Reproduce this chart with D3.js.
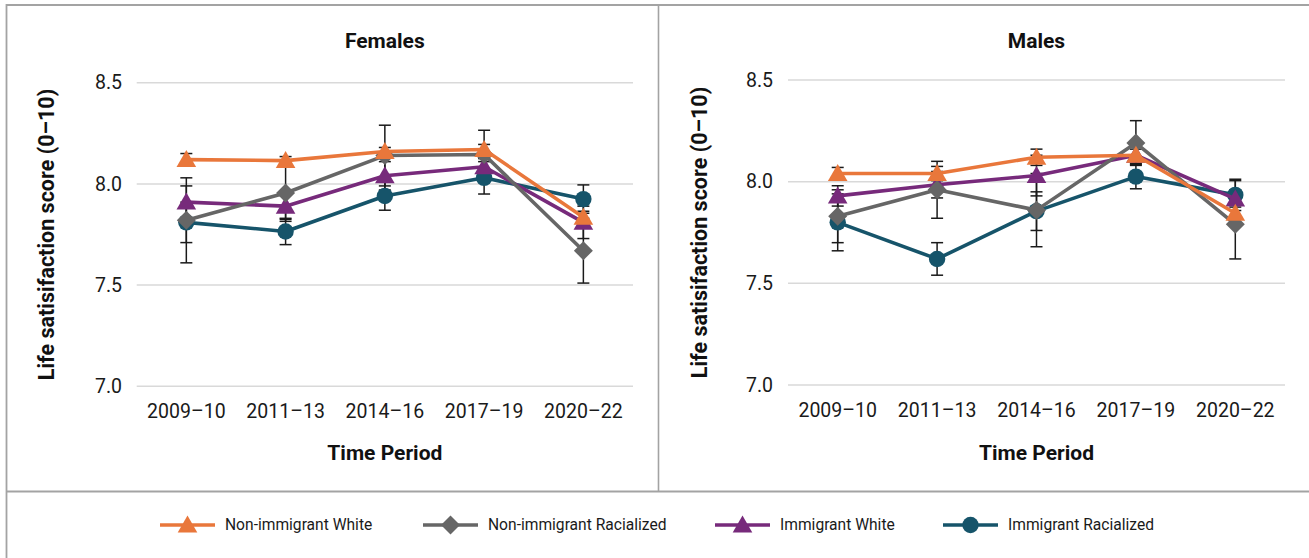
<!DOCTYPE html>
<html>
<head>
<meta charset="utf-8">
<script src="https://cdn.jsdelivr.net/npm/d3@7"></script>
<style>
  html, body { margin: 0; padding: 0; background: #fff; }
  svg { display: block; font-family: Roboto, "Liberation Sans", Arial, sans-serif; }
</style>
</head>
<body>
<svg id="chart" width="1309" height="558"></svg>
<script>
// Time periods on the x axis and score ticks on the y axis
const periods = ["2009–10", "2011–13", "2014–16", "2017–19", "2020–22"];
const yTicks = [7.0, 7.5, 8.0, 8.5];
const seriesNames = ["Non-immigrant White", "Non-immigrant Racialized", "Immigrant White", "Immigrant Racialized"];

// Females: mean life satisfaction and error-bar half widths
const femalesNIW = [8.12, 8.115, 8.16, 8.17, 7.835];
const femalesNIWErr = [0.03, 0.02, 0.02, 0.025, 0.03];
const femalesNIR = [7.82, 7.955, 8.14, 8.145, 7.67];
const femalesNIRErr = [0.21, 0.14, 0.15, 0.12, 0.16];
const femalesIW = [7.91, 7.89, 8.04, 8.085, 7.81];
const femalesIWErr = [0.08, 0.065, 0.07, 0.04, 0.08];
const femalesIR = [7.81, 7.765, 7.94, 8.03, 7.925];
const femalesIRErr = [0.10, 0.065, 0.07, 0.08, 0.07];

// Males
const malesNIW = [8.04, 8.04, 8.12, 8.13, 7.845];
const malesNIWErr = [0.03, 0.035, 0.04, 0.03, 0.03];
const malesNIR = [7.83, 7.96, 7.86, 8.19, 7.79];
const malesNIRErr = [0.13, 0.14, 0.18, 0.11, 0.17];
const malesIW = [7.93, 7.985, 8.03, 8.13, 7.915];
const malesIWErr = [0.05, 0.065, 0.10, 0.04, 0.09];
const malesIR = [7.80, 7.62, 7.855, 8.025, 7.935];
const malesIRErr = [0.14, 0.08, 0.095, 0.06, 0.077];

const colors = ["#E9773B", "#666666", "#772A7B", "#16546A"];
const shapes = ["triangle", "diamond", "triangle", "circle"];
const FONT = "Roboto, 'Liberation Sans', Arial, sans-serif";

const svg = d3.select("#chart");

// Frame
const frame = svg.append("g").attr("stroke", "#a3a3a3").attr("fill", "none");
frame.append("line").attr("x1", 6).attr("x2", 1309).attr("y1", 5).attr("y2", 5).attr("stroke-width", 2);
frame.append("line").attr("x1", 6.5).attr("x2", 6.5).attr("y1", 4).attr("y2", 558).attr("stroke-width", 1.8);
frame.append("line").attr("x1", 658.5).attr("x2", 658.5).attr("y1", 5).attr("y2", 491).attr("stroke-width", 1.6);
frame.append("line").attr("x1", 6).attr("x2", 1309).attr("y1", 491.5).attr("y2", 491.5).attr("stroke-width", 1.8);

function markerPath(shape) {
  if (shape === "triangle") return "M0,-9.5L9.8,7.5L-9.8,7.5Z";
  if (shape === "diamond") return "M0,-9.5L9.5,0L0,9.5L-9.5,0Z";
  return d3.symbol(d3.symbolCircle, Math.PI * 8.2 * 8.2)();
}

function drawPanel(opts) {
  const { title, x0, x1, yTop, yBottom, labelX, tickRight, values, errors } = opts;
  const g = svg.append("g");
  const x = d3.scaleBand().domain(periods).range([x0, x1]);
  const y = d3.scaleLinear().domain([7.0, 8.5]).range([yBottom, yTop]);
  const cx = d => x(d) + x.bandwidth() / 2;

  // Gridlines
  g.append("g").selectAll("line").data(yTicks).join("line")
    .attr("x1", x0).attr("x2", x1)
    .attr("y1", d => y(d)).attr("y2", d => y(d))
    .attr("stroke", "#d9d9d9").attr("stroke-width", 1.5);

  // Y axis tick labels
  const yAxis = d3.axisLeft(y).tickValues(yTicks).tickFormat(d3.format(".1f")).tickSize(0).tickPadding(0);
  const ya = g.append("g").attr("transform", `translate(${tickRight},0)`).call(yAxis);
  ya.select(".domain").remove();
  ya.selectAll("text").attr("font-size", 19.5).attr("fill", "#1a1a1a").attr("font-family", FONT);

  // X axis tick labels
  const xAxis = d3.axisBottom(x).tickSize(0).tickPadding(0);
  const xa = g.append("g").attr("transform", `translate(0,${yBottom + 18})`).call(xAxis);
  xa.select(".domain").remove();
  xa.selectAll("text").attr("font-size", 19.5).attr("fill", "#1a1a1a").attr("font-family", FONT);

  // Titles
  g.append("text").attr("x", (x0 + x1) / 2).attr("y", 48).attr("text-anchor", "middle")
    .attr("font-size", 21).attr("font-weight", "bold").attr("fill", "#111").text(title);
  g.append("text").attr("x", (x0 + x1) / 2).attr("y", 460).attr("text-anchor", "middle")
    .attr("font-size", 21).attr("font-weight", "bold").attr("fill", "#111").text("Time Period");
  g.append("text")
    .attr("transform", `translate(${labelX},${(yTop + yBottom) / 2}) rotate(-90)`)
    .attr("text-anchor", "middle").attr("dy", "0.35em")
    .attr("font-size", 21.5).attr("font-weight", "bold").attr("fill", "#111")
    .text("Life satisifaction score (0–10)");

  // Error bars (behind lines and markers)
  const eb = g.append("g").attr("stroke", "#1a1a1a").attr("stroke-width", 1.5);
  values.forEach((vals, s) => {
    vals.forEach((v, i) => {
      const px = cx(periods[i]);
      const lo = y(v - errors[s][i]);
      const hi = y(v + errors[s][i]);
      eb.append("line").attr("x1", px).attr("x2", px).attr("y1", hi).attr("y2", lo);
      eb.append("line").attr("x1", px - 6).attr("x2", px + 6).attr("y1", hi).attr("y2", hi);
      eb.append("line").attr("x1", px - 6).attr("x2", px + 6).attr("y1", lo).attr("y2", lo);
    });
  });

  // Series, drawn last-to-first so the first legend entry sits on top
  const line = d3.line().x((d, i) => cx(periods[i])).y(d => y(d));
  for (let s = values.length - 1; s >= 0; s--) {
    const sg = g.append("g");
    sg.append("path").datum(values[s]).attr("d", line)
      .attr("fill", "none").attr("stroke", colors[s]).attr("stroke-width", 3.6)
      .attr("stroke-linejoin", "round");
    sg.selectAll("path.m").data(values[s]).join("path").attr("class", "m")
      .attr("transform", (d, i) => `translate(${cx(periods[i])},${y(d)})`)
      .attr("d", markerPath(shapes[s])).attr("fill", colors[s]);
  }
}

drawPanel({
  title: "Females", x0: 136.7, x1: 633, yTop: 82.7, yBottom: 386.3,
  labelX: 46.5, tickRight: 122,
  values: [femalesNIW, femalesNIR, femalesIW, femalesIR],
  errors: [femalesNIWErr, femalesNIRErr, femalesIWErr, femalesIRErr]
});
drawPanel({
  title: "Males", x0: 788, x1: 1285, yTop: 80, yBottom: 385,
  labelX: 699, tickRight: 773,
  values: [malesNIW, malesNIR, malesIW, malesIR],
  errors: [malesNIWErr, malesNIRErr, malesIWErr, malesIRErr]
});

// Legend
const legendX = [160, 423, 715, 943];
const legend = svg.append("g");
seriesNames.forEach((name, s) => {
  const lg = legend.append("g").attr("transform", `translate(${legendX[s]},525)`);
  lg.append("line").attr("x1", 0).attr("x2", 55).attr("y1", 0).attr("y2", 0)
    .attr("stroke", colors[s]).attr("stroke-width", 3.6);
  lg.append("path").attr("transform", "translate(27.5,0)").attr("d", markerPath(shapes[s])).attr("fill", colors[s]);
  lg.append("text").attr("x", 65).attr("y", 0).attr("dy", "0.35em")
    .attr("font-size", 15.6).attr("fill", "#1a1a1a").attr("font-family", FONT).text(name);
});
</script>
</body>
</html>
